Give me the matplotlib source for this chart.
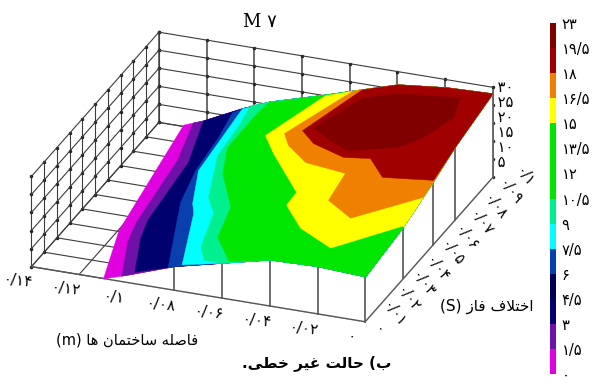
import matplotlib
matplotlib.use("Agg")
import matplotlib.pyplot as plt
from matplotlib.cm import ScalarMappable
from matplotlib.colors import BoundaryNorm, ListedColormap
from mpl_toolkits.mplot3d import proj3d
from mpl_toolkits.mplot3d.art3d import Poly3DCollection

plt.rcParams['font.family'] = ['DejaVu Sans']

# axes values
x_ticks = [0, 0.02, 0.04, 0.06, 0.08, 0.1, 0.12, 0.14]
x_labels = ['۰', '۰/۰۲', '۰/۰۴', '۰/۰۶', '۰/۰۸', '۰/۱', '۰/۱۲', '۰/۱۴']
y_ticks = [0, 0.01, 0.02, 0.03, 0.04, 0.05, 0.06, 0.07, 0.08, 0.09, 0.1]
y_labels = ['۰', '۰/۰۱', '۰/۰۲', '۰/۰۳', '۰/۰۴', '۰/۰۵', '۰/۰۶', '۰/۰۷', '۰/۰۸', '۰/۰۹', '۰/۱']
z_grid = [0, 6, 12, 18, 24, 30]
z_ticks = [5, 10, 15, 20, 25, 30]
z_labels = ['۵', '۱۰', '۱۵', '۲۰', '۲۵', '۳۰']

# colour scale
levels = [0, 1.5, 3, 4.5, 6, 7.5, 9, 10.5, 12, 13.5, 15, 16.5, 18, 19.5, 23]
level_labels = ['۰', '۱/۵', '۳', '۴/۵', '۶', '۷/۵', '۹', '۱۰/۵', '۱۲', '۱۳/۵', '۱۵', '۱۶/۵', '۱۸', '۱۹/۵', '۲۳']
band_colors = ['#e000e0', '#6f10a8', '#00006e', '#000058', '#0a3fb0', '#00ffff', '#00f090',
               '#00e600', '#00e600', '#00e600', '#ffff00', '#f08000', '#a00000', '#800000']

# edge of the surface: front edge, right edge, back edge, left edge
edge_x = [0.11, 0.1, 0.08, 0.06, 0.04, 0.02, 0, 0, 0, 0, 0,
          0.0193, 0.0398, 0.0557, 0.0704, 0.0935, 0.1052, 0.1215, 0.1298, 0.12]
edge_y = [0, 0, 0, 0, 0, 0, 0, 0.03, 0.053, 0.0703, 0.1,
          0.1, 0.1, 0.1, 0.1, 0.1, 0.1, 0.1, 0.1, 0.031]
edge_z = [0, 2.5, 8, 11.7, 15.4, 15.8, 15, 17.3, 21, 24.4, 28,
          27.5, 25.8, 22, 18.4, 13.1, 9.3, 3.1, 0.6, 0]

# contour lines of the surface
c1_x = [0.1024, 0.1112, 0.1144, 0.1194, 0.1258]
c1_y = [0.0002, 0.0213, 0.0335, 0.0756, 0.1001]
c3_x = [0.0972, 0.106, 0.1092, 0.113, 0.121]
c3_y = [0.0007, 0.0218, 0.0333, 0.0723, 0.099]
c6_x = [0.0829, 0.0995, 0.1043, 0.1066, 0.1095]
c6_y = [0, 0.0409, 0.0617, 0.0838, 0.1003]
c7_x = [0.077, 0.0894, 0.093, 0.1015, 0.1039, 0.1054]
c7_y = [0, 0.0323, 0.0382, 0.0587, 0.0843, 0.1004]
c9_x = [0.0688, 0.0741, 0.0804, 0.0874, 0.0976, 0.0996, 0.1017]
c9_y = [0.0018, 0.0093, 0.0311, 0.0402, 0.0664, 0.0879, 0.0997]
c10_x = [0.0573, 0.0694, 0.0743, 0.0882, 0.0948, 0.095, 0.0943]
c10_y = [0, 0.0137, 0.0331, 0.0528, 0.0689, 0.0896, 0.1001]
c15_x = [0, 0.0193, 0.0367, 0.0493, 0.0498, 0.0708, 0.0796, 0.0705]
c15_y = [0.0291, 0.0086, 0.0176, 0.0301, 0.0389, 0.0601, 0.0702, 0.1002]
c16_x = [0, 0.0199, 0.0338, 0.0363, 0.0544, 0.0662, 0.0715, 0.0601]
c16_y = [0.0453, 0.0254, 0.034, 0.052, 0.0546, 0.0632, 0.07, 0.1027]
c18_x = [0, 0.0197, 0.0302, 0.0404, 0.0559, 0.0641, 0.0554]
c18_y = [0.0533, 0.05, 0.0602, 0.0582, 0.0636, 0.0703, 0.101]
c19_x = [0.0593, 0.0489, 0.0395, 0.0221, 0.0159, 0.0113, 0.0152, 0.0396, 0.0507]
c19_y = [0.07, 0.0638, 0.0595, 0.0663, 0.0749, 0.0899, 0.1026, 0.0988, 0.093]

contours = [(1.5, 1.8, c1_x, c1_y, 1, 17), (3, 3.6, c3_x, c3_y, 2, 16), (6, 7.2, c6_x, c6_y, 2, 16),
            (7.5, 9, c7_x, c7_y, 3, 15), (9, 10.8, c9_x, c9_y, 3, 15), (10.5, 12.6, c10_x, c10_y, 4, 14),
            (15, 18, c15_x, c15_y, 7, 13), (16.5, 19.8, c16_x, c16_y, 8, 13), (18, 21.6, c18_x, c18_y, 9, 12),
            (19.5, 23.4, c19_x, c19_y, None, None)]

cmap = ListedColormap(band_colors)
norm = BoundaryNorm(levels, cmap.N)

fig = plt.figure(figsize=(5.96, 3.83), dpi=100)
S = 596
ax = fig.add_axes([-44 / 596, -100 / 383, S / 596, S / 383], projection='3d',
                  proj_type='ortho', computed_zorder=False)
ax.set_box_aspect((1, 1, 0.28), zoom=0.839)
ax.view_init(elev=25.6, azim=-69.1)
ax.set_xlim(0.14, 0)
ax.set_ylim(0, 0.1)
ax.set_zlim(0, 30)
ax.set_axis_off()

line = dict(color='#3c3c3c', lw=0.8)

# walls and floor
for y in y_ticks:
    ax.plot([0.14, 0.14], [y, y], [0, 30], zorder=1, **line)
    ax.plot([0, 0.14], [y, y], [0, 0], zorder=1, **line)
    ax.plot([0.14] * 6, [y] * 6, z_grid, ls='', marker='o', ms=1.5, color='#222222', zorder=1)
for x in x_ticks:
    ax.plot([x, x], [0.1, 0.1], [0, 30], zorder=1, color='#444444', lw=1.1)
    ax.plot([x, x], [0, 0.1], [0, 0], zorder=1, **line)
    ax.plot([x] * 6, [0.1] * 6, z_grid, ls='', marker='o', ms=1.5, color='#222222', zorder=1)
for z in z_grid:
    ax.plot([0.14, 0.14], [0, 0.1], [z, z], zorder=1, **line)
    ax.plot([0, 0.14], [0.1, 0.1], [z, z], zorder=1, **line)


def outline(i):
    return edge_x[i], edge_y[i], edge_z[i]


def add_poly(pts, color, zorder):
    poly = Poly3DCollection([pts], facecolors=color, edgecolors=color, linewidths=0.3, zorder=zorder)
    ax.add_collection3d(poly, autolim=False)


def label(x, y, z, s, **kw):
    # 2d text at the projected place of a 3d point
    px, py, _ = proj3d.proj_transform(x, y, z, ax.get_proj())
    ax.text2D(px, py, s, transform=ax.transData, zorder=20, **kw)


# white skirt below the front and right edge of the surface
front = [outline(i) for i in range(0, 7)]
right = [outline(i) for i in range(6, 11)]
add_poly(front + [(0, 0, 0), (0.11, 0, 0)], 'white', 2)
add_poly(right + [(0, 0.1, 0), (0, 0, 0)], 'white', 2)
ax.plot([0, 0.14], [0, 0], [0, 0], zorder=3, color='#555555', lw=1)
ax.plot([0, 0], [0, 0.1], [0, 0], zorder=3, color='#555555', lw=1)
for i in [2, 3, 4, 5, 6, 7, 8, 9, 10]:
    ax.plot([edge_x[i]] * 2, [edge_y[i]] * 2, [0, edge_z[i]], zorder=3, color='#555555', lw=1.2)

# surface, painted band by band from low to high
add_poly([outline(i) for i in range(len(edge_x))], cmap(norm(0.1)), 4)
for n, (level, height, cx, cy, start, end) in enumerate(contours):
    pts = [(a, b, height) for a, b in zip(cx, cy)]
    if start is not None:
        pts += [outline(i) for i in range(end, start - 1, -1)]
    add_poly(pts, cmap(norm(level + 0.1)), 5 + n)

# tick labels
for x, lab in zip(x_ticks, x_labels):
    label(x, -0.0103, 0, lab, ha='center', va='center', fontsize=11, rotation=-6)
for y, lab in zip(y_ticks, y_labels):
    label(-0.008 - 0.037 * y, 1.07 * y - 0.004, 0, lab, ha='center', va='center', fontsize=10.5, rotation=-52)
for z, lab in zip(z_ticks, z_labels):
    label(0, 0.1, z, ' ' + lab, ha='left', va='center', fontsize=10.5)

# colour bar
cax = fig.add_axes([550 / 596, 1 - 374 / 383, 6 / 596, 351 / 383])
cb = fig.colorbar(ScalarMappable(norm=norm, cmap=cmap), cax=cax, spacing='uniform', ticks=levels)
cb.set_ticklabels(level_labels)
cb.outline.set_visible(False)
cax.tick_params(length=0, pad=4, labelsize=10.5)

# persian text in drawing order, since matplotlib does no shaping
xlabel = '(m) \uFE8E\uFEEB \uFEE5\uFE8E\uFEE4\uFE98\uFEA7\uFE8E\uFEB3 \uFEEA\uFEE0\uFEBB\uFE8E\uFED3'
ylabel = '(S) \uFEAF\uFE8E\uFED3 \uFED1\uFEFC\uFE98\uFEA7\uFE8D'
caption = '.\uFBFD\uFEC4\uFEA7 \uFEAE\uFBFF\uFECF \uFE96\uFEDF\uFE8E\uFEA3 (\uFE8F'
fig.text(127 / 596, 1 - 340 / 383, xlabel, ha='center', va='center', fontsize=10.5)
fig.text(487 / 596, 1 - 306 / 383, ylabel, ha='center', va='center', fontsize=11)
fig.text(317 / 596, 1 - 363 / 383, caption, ha='center', va='center', fontsize=11, fontweight='bold')
fig.text(260 / 596, 1 - 22 / 383, 'M ۷', ha='center', va='center', fontsize=13,
         family=['DejaVu Serif', 'DejaVu Sans'])

fig.savefig('out.png', dpi=100)
